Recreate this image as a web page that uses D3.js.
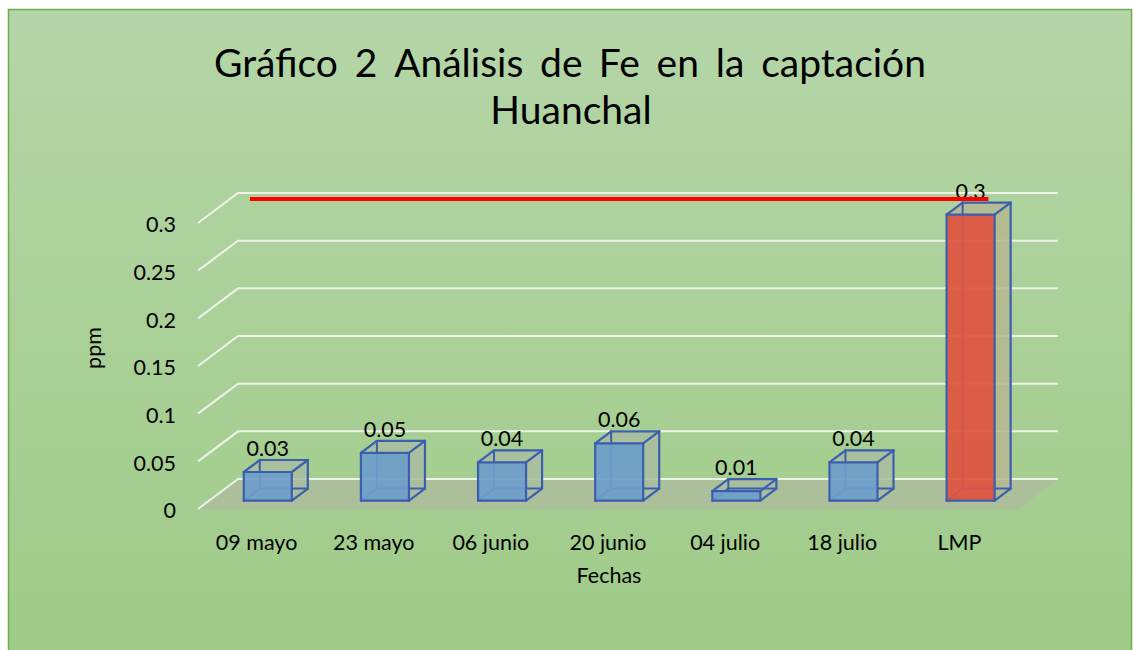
<!DOCTYPE html>
<html lang="es">
<head>
<meta charset="UTF-8">
<title>Gráfico 2 Análisis de Fe</title>
<script src="https://cdn.jsdelivr.net/npm/d3@7"></script>
<style>
  body { margin: 0; background: #fff; }
  svg { display: block; font-family: Lato, "Open Sans", sans-serif; }
</style>
</head>
<body>
<div id="chart"></div>
<script>
// Datos
const categorias = ["09 mayo", "23 mayo", "06 junio", "20 junio", "04 julio", "18 julio", "LMP"];
const valores = [0.03, 0.05, 0.04, 0.06, 0.01, 0.04, 0.3];
const ticks = [0, 0.05, 0.1, 0.15, 0.2, 0.25, 0.3];
const limite = 0.3;
const tituloLinea1 = ["Gráfico", "2", "Análisis", "de", "Fe", "en", "la", "captación"];
const tituloLinea2 = "Huanchal";

const width = 1134, height = 650;
const fs = 21.5;
const svg = d3.select("#chart").append("svg")
    .attr("width", width).attr("height", height);

// fondo con degradado
const grad = svg.append("defs").append("linearGradient")
    .attr("id", "bg").attr("x1", 0).attr("y1", 0).attr("x2", 0).attr("y2", 1);
grad.append("stop").attr("offset", "0%").attr("stop-color", "#b5d5a8");
grad.append("stop").attr("offset", "100%").attr("stop-color", "#9ecb87");

svg.append("rect")
    .attr("x", 8.5).attr("y", 9.5).attr("width", 1123).attr("height", 660)
    .attr("fill", "url(#bg)").attr("stroke", "#70ad47").attr("stroke-width", 1.5);

// Escalas (plano frontal) y profundidad 3D
const x = d3.scaleBand().domain(categorias).range([198, 1018]);
const y = d3.scaleLinear().domain([0, 0.3]).range([509, 223]);
const depthX = 40, depthY = -30;
const proj = (px, py, t) => [px + depthX * t, py + depthY * t];

// suelo
const f0 = proj(x.range()[0], y(0), 0), f1 = proj(x.range()[1], y(0), 0);
const b0 = proj(x.range()[0], y(0), 1), b1 = proj(x.range()[1], y(0), 1);
svg.append("polygon")
    .attr("points", [f0, f1, b1, b0].map(p => p.join(",")).join(" "))
    .attr("fill", "#b2b2a4").attr("opacity", 0.55);

// líneas de cuadrícula
const grid = svg.append("g").attr("stroke", "#eef3ea").attr("stroke-width", 2).attr("fill", "none");
ticks.forEach(t => {
    const a = proj(x.range()[0], y(t), 0);
    const b = proj(x.range()[0], y(t), 1);
    const c = proj(x.range()[1], y(t), 1);
    grid.append("polyline").attr("points", [a, b, c].map(p => p.join(",")).join(" "));
});

// etiquetas eje Y
svg.append("g").selectAll("text").data(ticks).enter().append("text")
    .attr("x", 176).attr("y", d => y(d) + 4)
    .attr("text-anchor", "end").attr("dominant-baseline", "middle")
    .attr("font-size", fs).attr("fill", "#000")
    .text(d => d);

// barras 3D
const t0 = 0.28, t1 = 0.68, frac = 0.41;
const bars = svg.append("g");
categorias.forEach((c, i) => {
    const v = valores[i];
    const bw = x.bandwidth() * frac;
    const xl = x(c) + (x.bandwidth() - bw) / 2, xr = xl + bw;
    const yb = y(0), yt = y(v);
    const F = [proj(xl, yb, t0), proj(xr, yb, t0), proj(xr, yt, t0), proj(xl, yt, t0)];
    const B = [proj(xl, yb, t1), proj(xr, yb, t1), proj(xr, yt, t1), proj(xl, yt, t1)];
    const esLMP = c === "LMP";
    const frente = esLMP ? "#df5240" : "#6e9dcb";
    const lado = esLMP ? "#b4b98f" : "#a8bd9f";
    const g = bars.append("g");
    const poly = (pts, fill, op) => g.append("polygon")
        .attr("points", pts.map(p => p.join(",")).join(" "))
        .attr("fill", fill).attr("fill-opacity", op).attr("stroke", "none");
    poly([F[1], B[1], B[2], F[2]], lado, 0.85);     // lado derecho
    poly([F[3], F[2], B[2], B[3]], lado, 0.85);     // cara superior
    // aristas ocultas
    const edge = (p, q, w) => g.append("line")
        .attr("x1", p[0]).attr("y1", p[1]).attr("x2", q[0]).attr("y2", q[1])
        .attr("stroke", "#3b5fae").attr("stroke-width", w).attr("stroke-linecap", "round");
    edge(B[0], B[1], 2); edge(B[0], B[3], 2); edge(F[0], B[0], 2);
    poly(F, frente, 0.92);                          // cara frontal
    // aristas visibles
    edge(F[0], F[1], 2.2); edge(F[1], F[2], 2.2); edge(F[2], F[3], 2.2); edge(F[3], F[0], 2.2);
    edge(F[1], B[1], 2.2); edge(F[2], B[2], 2.2); edge(F[3], B[3], 2.2);
    edge(B[1], B[2], 2.2); edge(B[2], B[3], 2.2);
    // etiqueta de dato
    g.append("text")
        .attr("x", (xl + xr) / 2 + depthX * t0)
        .attr("y", B[2][1] - 4)
        .attr("text-anchor", "middle").attr("font-size", fs).attr("fill", "#000")
        .text(v);
});

// línea del LMP
const lx1 = proj(x(categorias[0]) + x.step() * 0.17, y(limite), 0.8);
const lx2 = proj(x("LMP") + x.bandwidth() / 2, y(limite), 0.8);
svg.append("line")
    .attr("x1", lx1[0]).attr("y1", lx1[1]).attr("x2", lx2[0] - 3).attr("y2", lx2[1])
    .attr("stroke", "#ff0000").attr("stroke-width", 4);

// etiquetas eje X
svg.append("g").selectAll("text").data(categorias).enter().append("text")
    .attr("x", d => x(d) + x.bandwidth() / 2)
    .attr("y", 545).attr("dominant-baseline", "middle")
    .attr("text-anchor", "middle").attr("font-size", fs).attr("fill", "#000")
    .text(d => d);

// títulos de ejes
svg.append("text").attr("x", 609).attr("y", 578)
    .attr("dominant-baseline", "middle").attr("text-anchor", "middle")
    .attr("font-size", fs).text("Fechas");
svg.append("text").attr("transform", "translate(96,348) rotate(-90)")
    .attr("dominant-baseline", "middle").attr("text-anchor", "middle")
    .attr("font-size", fs).text("ppm");

// título justificado
const titulo = svg.append("text").attr("y", 77).attr("font-size", 39).attr("fill", "#000");
const words = titulo.selectAll("tspan").data(tituloLinea1).enter().append("tspan").text(d => d);
const total = 926 - 214;
let widths = [];
words.each(function () { widths.push(this.getComputedTextLength()); });
const gap = (total - d3.sum(widths)) / (tituloLinea1.length - 1);
let cx = 214;
words.attr("x", (d, i) => { const v = cx; cx += widths[i] + gap; return v; });
svg.append("text").attr("x", 571).attr("y", 124)
    .attr("text-anchor", "middle").attr("font-size", 39).text(tituloLinea2);
</script>
</body>
</html>
